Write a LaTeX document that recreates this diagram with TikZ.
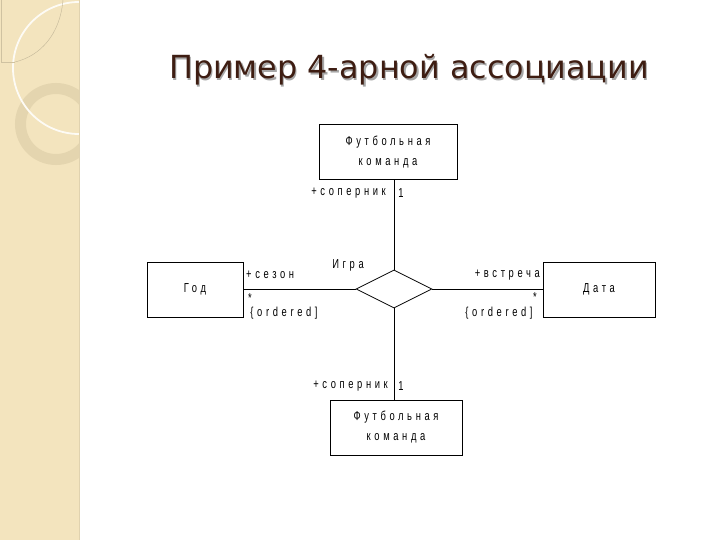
\documentclass[tikz,border=0pt]{standalone}
\usepackage{fontspec}
\setmainfont{DejaVu Sans}
\newfontfamily\titlefont{DejaVu Sans}
\newfontfamily\diagfont[FakeStretch=0.72,LetterSpace=28]{Liberation Sans}
\usetikzlibrary{shapes.geometric}
\definecolor{side}{HTML}{F3E4BE}
\definecolor{ring}{HTML}{E4D5AF}
\definecolor{titlec}{HTML}{3E1D12}
\tikzset{
  box/.style={draw=black, line width=1pt, inner sep=0pt, align=center, font=\diagfont\fontsize{13}{20}\selectfont},
  lbl/.style={inner sep=0pt, font=\diagfont\fontsize{13}{15}\selectfont},
  conn/.style={draw=black, line width=0.9pt},
}
\begin{document}
\begin{tikzpicture}[x=1pt,y=-1pt]
\useasboundingbox (0,0) rectangle (720,540);
\fill[white] (0,0) rectangle (720,540);
% sidebar
\fill[side] (0,0) rectangle (79,540);
\begin{scope}
\clip (0,0) rectangle (79,540);
\draw[ring, line width=11pt] (56,124) circle (35.5);
\draw[white!85!side, line width=1.8pt] (79,68) circle (66);
\draw[side!80!black, line width=0.4pt] (63,0) .. controls (60,35) and (40,56) .. (15,62);
\draw[side!85!black, line width=0.4pt] (1,0) -- (1,62) -- (15,62);
\end{scope}
\draw[side!92!black, line width=0.6pt] (79,0) -- (79,540);
% title
\node[text=gray!70, font=\titlefont\fontsize{31.8}{33}\selectfont, anchor=base] at (410.5,80.5) {Пример 4-арной ассоциации};
\node[text=titlec, font=\titlefont\fontsize{31.8}{33}\selectfont, anchor=base] (title) at (409,79) {Пример 4-арной ассоциации};
% boxes
\node[box, minimum width=138pt, minimum height=55pt] (top) at (388,152.5) {Футбольная\\команда};
\node[box, minimum width=132pt, minimum height=55pt] (bot) at (396,427.5) {Футбольная\\команда};
\node[box, minimum width=96pt, minimum height=55pt] (god) at (195,289.5) {Год};
\node[box, minimum width=112pt, minimum height=55pt] (data) at (599,289.5) {Дата};
\node[draw=black, line width=0.8pt, diamond, aspect=2, minimum width=76pt, minimum height=38pt, inner sep=0pt] (dia) at (394,289) {};
% connectors
\draw[conn] (dia.north) -- (dia.north |- top.south);
\draw[conn] (dia.south) -- (dia.south |- bot.north);
\draw[conn] (dia.west) -- (dia.west -| god.east);
\draw[conn] (dia.east) -- (dia.east -| data.west);
% labels
\node[lbl] (igra) at (348,265) {Игра};
\node[lbl, anchor=west] (sezon) at (246,275) {+сезон};
\node[lbl] (st1) at (250,298) {*};
\node[lbl] (ord1) at (284,313) {\{ordered]};
\node[lbl, anchor=east] (vstr) at (540,275) {+встреча};
\node[lbl] (ord2) at (499,313) {\{ordered]};
\node[lbl] (st2) at (535,297) {*};
\node[lbl, anchor=east] (sop1) at (386,193) {+соперник};
\node[lbl] (one1) at (401,193) {1};
\node[lbl, anchor=east] (sop2) at (388,386) {+соперник};
\node[lbl] (one2) at (401,386) {1};
\end{tikzpicture}
\end{document}
